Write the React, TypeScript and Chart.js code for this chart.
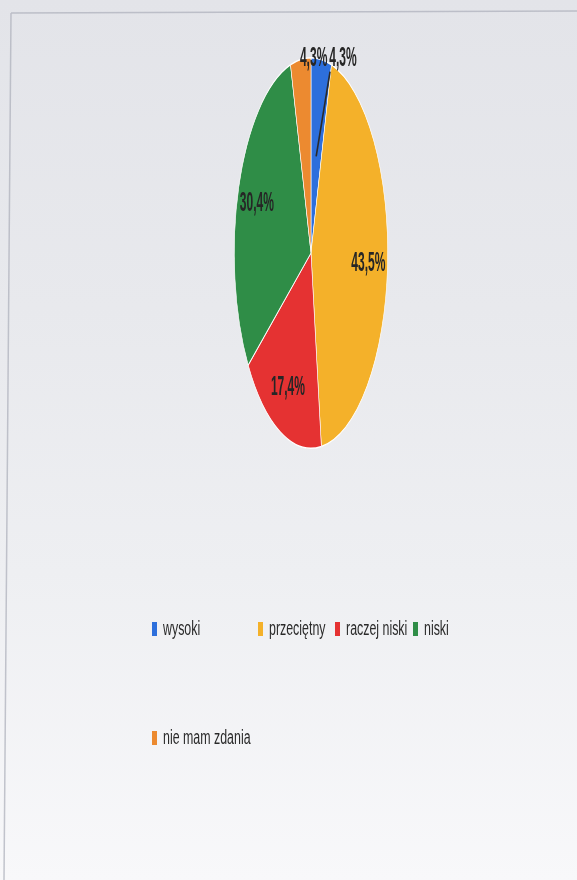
import { useEffect, useRef } from 'react';
import { Chart, registerables } from 'chart.js';

Chart.register(...registerables);

// ---- data ----
const categories = ['wysoki', 'przeciętny', 'raczej niski', 'niski', 'nie mam zdania'];
const shares = [4.3, 43.5, 17.4, 30.4, 4.3];
const sliceColors = ['#2d6fdc', '#f4b12a', '#e53232', '#2f8d47', '#ec8a30'];

// ---- layout / style ----
const W = 577;
const H = 880;
const ELLIPSE_X = 0.393; // horizontal squash of the (scanned) pie
const LABEL_FONT = 'bold 28px "Liberation Sans", Arial, sans-serif';
const LABEL_SCALE_X = 0.43;
const LEGEND_FONT = '20px "Liberation Sans", Arial, sans-serif';
const LEGEND_SCALE_X = 0.62;
const labelAngleShift = [15, 0, 0, 0, 9.7]; // degrees
const labelRadius = [1.08, 0.75, 0.75, 0.75, 1.0];
const leaderLine = [true, false, false, false, false];
const legendPos: [number, number][] = [
  [152, 629],
  [258, 629],
  [335, 629],
  [413, 629],
  [152, 738],
];

const fmt = (v: number) => v.toFixed(1).replace('.', ',') + '%';

function drawSquashedText(
  ctx: CanvasRenderingContext2D,
  text: string,
  x: number,
  y: number,
  sx: number,
  align: CanvasTextAlign
) {
  ctx.save();
  ctx.translate(x, y);
  ctx.scale(sx, 1);
  ctx.textAlign = align;
  ctx.textBaseline = 'middle';
  ctx.fillText(text, 0, 0);
  ctx.restore();
}

const framePlugin = {
  id: 'scanFrame',
  beforeDraw(chart: any) {
    const ctx: CanvasRenderingContext2D = chart.ctx;
    ctx.save();
    ctx.strokeStyle = 'rgba(175,178,188,0.75)';
    ctx.lineWidth = 1.5;
    ctx.beginPath();
    ctx.moveTo(11, 13);
    ctx.lineTo(577, 11);
    ctx.moveTo(11, 13);
    ctx.lineTo(4, 880);
    ctx.stroke();
    ctx.restore();
  },
};

const ellipsePlugin = {
  id: 'ellipse',
  beforeDatasetsDraw(chart: any) {
    const arc = chart.getDatasetMeta(0).data[0];
    const ctx: CanvasRenderingContext2D = chart.ctx;
    ctx.save();
    ctx.translate(arc.x, arc.y);
    ctx.scale(ELLIPSE_X, 1);
    ctx.translate(-arc.x, -arc.y);
  },
  afterDatasetsDraw(chart: any) {
    chart.ctx.restore();
  },
};

const labelPlugin = {
  id: 'sliceLabels',
  afterDraw(chart: any) {
    const ctx: CanvasRenderingContext2D = chart.ctx;
    const meta = chart.getDatasetMeta(0);
    const values: number[] = chart.data.datasets[0].data;
    meta.data.forEach((arc: any, i: number) => {
      const { x, y, startAngle, endAngle, outerRadius } = arc.getProps(
        ['x', 'y', 'startAngle', 'endAngle', 'outerRadius'],
        true
      );
      const mid = (startAngle + endAngle) / 2;
      const a = mid + (labelAngleShift[i] * Math.PI) / 180;
      const r = outerRadius * labelRadius[i];
      const lx = x + Math.cos(a) * r * ELLIPSE_X;
      const ly = y + Math.sin(a) * r;
      if (leaderLine[i]) {
        ctx.save();
        ctx.strokeStyle = '#2a2a2a';
        ctx.lineWidth = 1.6;
        ctx.beginPath();
        ctx.moveTo(x + Math.cos(mid) * outerRadius * 0.5 * ELLIPSE_X, y + Math.sin(mid) * outerRadius * 0.5);
        ctx.lineTo(lx - 13, ly + 13);
        ctx.stroke();
        ctx.restore();
      }
      ctx.save();
      ctx.font = LABEL_FONT;
      ctx.fillStyle = '#262626';
      drawSquashedText(ctx, fmt(values[i]), lx, ly, LABEL_SCALE_X, 'center');
      ctx.restore();
    });
  },
};

const legendPlugin = {
  id: 'customLegend',
  afterDraw(chart: any) {
    const ctx: CanvasRenderingContext2D = chart.ctx;
    const labels: string[] = chart.data.labels;
    const colors: string[] = chart.data.datasets[0].backgroundColor;
    labels.forEach((lab, i) => {
      const [px, py] = legendPos[i];
      ctx.save();
      ctx.fillStyle = colors[i];
      ctx.fillRect(px, py - 7, 5, 14);
      ctx.font = LEGEND_FONT;
      ctx.fillStyle = '#2a2a2a';
      drawSquashedText(ctx, lab, px + 11, py, LEGEND_SCALE_X, 'left');
      ctx.restore();
    });
  },
};

export default function App() {
  const canvasRef = useRef<HTMLCanvasElement | null>(null);

  useEffect(() => {
    document.body.style.margin = '0';
    const canvas = canvasRef.current;
    if (!canvas) return;
    const chart = new Chart(canvas, {
      type: 'pie',
      data: {
        labels: categories,
        datasets: [
          {
            data: shares,
            backgroundColor: sliceColors,
            borderColor: '#ffffff',
            borderWidth: 1.5,
            clip: false,
          } as any,
        ],
      },
      options: {
        responsive: false,
        animation: false,
        devicePixelRatio: 1,
        layout: { padding: { top: 57, bottom: H - 449, left: 311 - 196, right: W - 507 } },
        plugins: {
          legend: { display: false },
          tooltip: { enabled: false },
        },
      },
      plugins: [framePlugin, ellipsePlugin, labelPlugin, legendPlugin],
    });
    return () => chart.destroy();
  }, []);

  return (
    <div
      style={{
        position: 'relative',
        width: W,
        height: H,
        background:
          'linear-gradient(to bottom, #e3e4e9 0%, #e8e9ed 35%, #eeeff2 65%, #f8f8fa 100%)',
      }}
    >
      <canvas ref={canvasRef} width={W} height={H} style={{ display: 'block' }} />
    </div>
  );
}
